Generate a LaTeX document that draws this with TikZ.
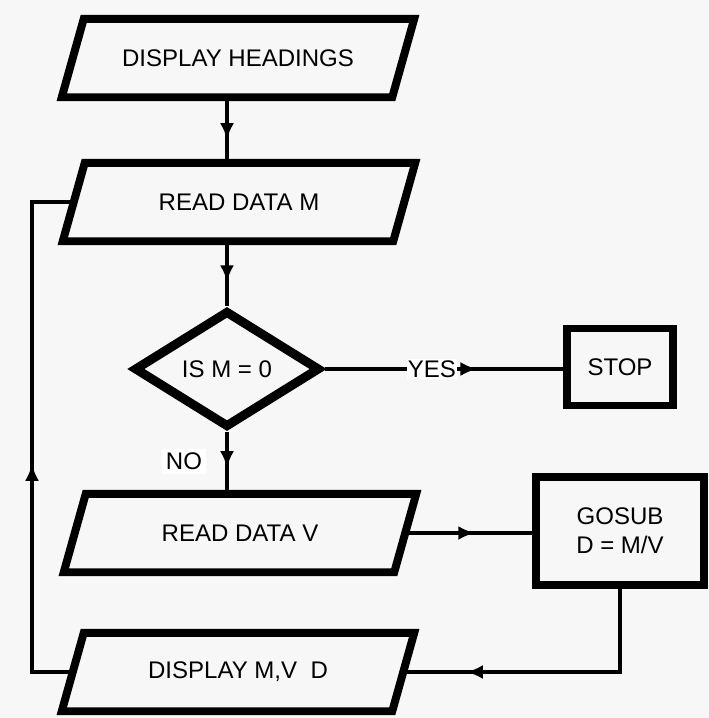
\documentclass[tikz,border=0pt]{standalone}
\usepackage{fontspec}
\setmainfont{Liberation Sans}
\usetikzlibrary{shapes.geometric,arrows.meta,decorations.markings}

\begin{document}
\begin{tikzpicture}[x=0.03cm, y=-0.03cm,
  every node/.style={font=\fontsize{20.5}{25}\selectfont},
  iotext/.style={rectangle, minimum width=9.9cm, minimum height=2.34cm, inner sep=0pt},
  io/.style={draw, line width=6.8pt, line join=miter},
  box/.style={draw, line width=6.8pt, rectangle, align=center},
  test/.style={draw, line width=7.7pt, diamond, aspect=1.6,
    minimum width=5.58cm, minimum height=3.51cm, inner sep=0pt},
  conn/.style={line width=3.6pt},
  midarrow/.style={postaction={decorate}, decoration={markings,
    mark=at position #1 with {\arrow{Latex[length=0.5cm,width=0.42cm]}}}},
  midarrow/.default=0.5]
\newcommand{\Slant}{0.33cm} % half the lean of the input boxes

% page
\useasboundingbox (0,0) rectangle (709,718);
\fill[black!3] (0,0) rectangle (709,718);

\coordinate (back) at (32,0); % x of the return line

% blocks
\node[iotext] (heads) at (238,58) {DISPLAY HEADINGS};
\node[iotext] (readm) at (239,202) {READ DATA M};
\node[test] (ism) at (227,369) {IS M = 0};
\node[box, minimum width=3.18cm, minimum height=2.31cm] (stop) at (620,367) {STOP};
\node[iotext] (readv) at (240,533) {READ DATA V};
\node[box, minimum width=5.04cm, minimum height=3.24cm] (gosub) at (620,531) {GOSUB\\D = M/V};
\node[iotext] (dispmv) at (238,672) {DISPLAY M,V\ \ D};

% input / output boxes
\foreach \n in {heads, readm, readv, dispmv}
  \draw[io] ([xshift=-\Slant]\n.south west) -- ([xshift=\Slant]\n.north west)
    -- ([xshift=\Slant]\n.north east) -- ([xshift=-\Slant]\n.south east) -- cycle;
%

% flow lines
\draw[conn, midarrow=0.65] (heads.south -| ism.north) -- (readm.north -| ism.north);
\draw[conn, midarrow=0.63] (readm.south -| ism.north) -- (ism.north);
\draw[conn, midarrow=0.64] (ism.east) -- node[pos=0.45, fill=white, inner sep=1pt] (yes) {YES} (ism.east -| stop.west);
\draw[conn, midarrow=0.58] (ism.south) -- node[pos=0.48, left=0.57cm, fill=white] (no) {NO} (readv.north -| ism.south);
\draw[conn, midarrow=0.55] (readv.east) -- (readv.east -| gosub.west);
\draw[conn, midarrow=0.79] (gosub.south) |- (dispmv.east);
\draw[conn, midarrow=0.45] (dispmv.west) -- (dispmv.west -| back) -- (readm.west -| back) -- (readm.west);
\end{tikzpicture}
\end{document}
